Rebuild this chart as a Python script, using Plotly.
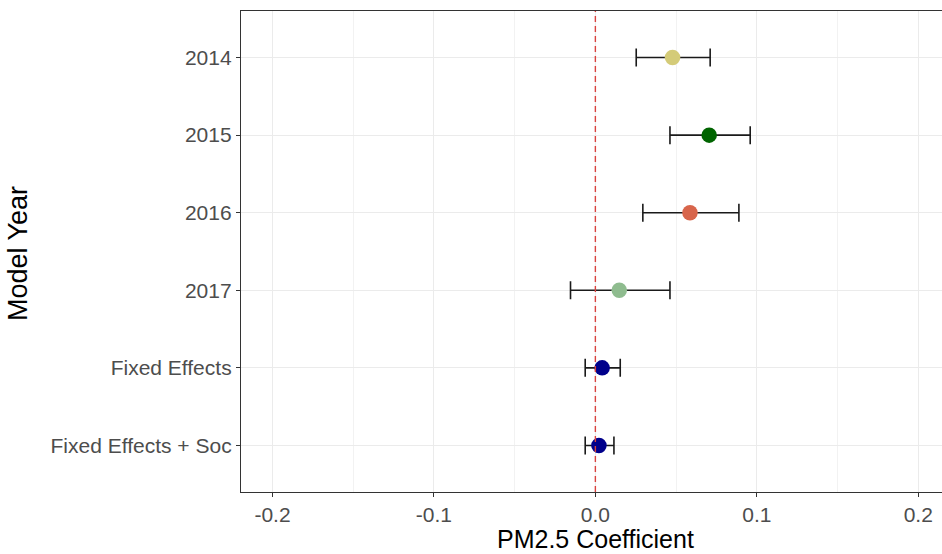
import plotly.graph_objects as go

categories = ["2014", "2015", "2016", "2017", "Fixed Effects", "Fixed Effects + Soc"]
estimates = [0.0478, 0.0705, 0.0586, 0.0148, 0.0042, 0.0022]
ci_low = [0.0253, 0.0462, 0.0294, -0.0154, -0.0063, -0.0063]
ci_high = [0.0711, 0.0959, 0.0889, 0.0462, 0.0154, 0.0115]
colors = ["#d4cb78", "#006400", "#d8654b", "#8fbc8f", "#00008b", "#00008b"]
x_ticks = [-0.2, -0.1, 0.0, 0.1, 0.2]
x_tick_text = ["-0.2", "-0.1", "0.0", "0.1", "0.2"]
ref_line = 0.0

W, H = 942, 554
ML, MR, MT, MB = 241, 0, 11, 62

err_plus = [h - e for h, e in zip(ci_high, estimates)]
err_minus = [e - l for e, l in zip(estimates, ci_low)]

fig = go.Figure()
fig.add_trace(go.Scatter(
    x=estimates, y=categories, mode="markers",
    marker=dict(size=15.5, color=colors, line=dict(width=0)),
    error_x=dict(type="data", symmetric=False, array=err_plus, arrayminus=err_minus,
                 color="#1a1a1a", thickness=1.6, width=9),
    showlegend=False, hoverinfo="x+y",
))

fig.add_shape(type="line", xref="x", yref="paper", x0=ref_line, x1=ref_line, y0=0, y1=1,
              line=dict(color="#d8433f", width=1.4, dash="6px,4px"), layer="above")

font_family = "Liberation Sans, Arial, sans-serif"
fig.update_layout(
    width=W, height=H,
    margin=dict(l=ML, r=MR, t=MT, b=MB, pad=0),
    paper_bgcolor="white", plot_bgcolor="white",
    font=dict(family=font_family, color="#4d4d4d", size=21),
    xaxis=dict(
        range=[-0.2195, 0.2147], tickvals=x_ticks, ticktext=x_tick_text,
        showgrid=True, gridcolor="#ebebeb", gridwidth=1.1,
        minor=dict(showgrid=True, gridcolor="#f2f2f2", gridwidth=0.6, dtick=0.05, tick0=0.05),
        zeroline=False, showline=True, linecolor="#333333", linewidth=1.3, mirror=True,
        ticks="outside", ticklen=4, tickcolor="#333333", tickwidth=1.1,
        tickfont=dict(size=21, color="#4d4d4d"),
    ),
    yaxis=dict(
        type="category", categoryorder="array", categoryarray=categories,
        range=[5.6, -0.6],
        showgrid=True, gridcolor="#ebebeb", gridwidth=1.1,
        zeroline=False, showline=True, linecolor="#333333", linewidth=1.3,
        ticks="outside", ticklen=4, tickcolor="#333333", tickwidth=1.1,
        tickfont=dict(size=21, color="#4d4d4d"),
    ),
    annotations=[
        dict(text="PM2.5 Coefficient", xref="paper", yref="paper",
             x=(595 - ML) / (W - ML - MR), y=(H - MB - 539) / (H - MB - MT),
             xanchor="center", yanchor="middle", showarrow=False,
             font=dict(size=25, color="black", family=font_family)),
        dict(text="Model Year", xref="paper", yref="paper",
             x=(18 - ML) / (W - ML - MR), y=(H - MB - 254) / (H - MB - MT),
             xanchor="center", yanchor="middle", textangle=-90, showarrow=False,
             font=dict(size=27, color="black", family=font_family)),
    ],
)

fig.write_html("out.html", config={"displayModeBar": False},
               post_script="document.body.style.margin='0';document.body.style.overflow='hidden';")
